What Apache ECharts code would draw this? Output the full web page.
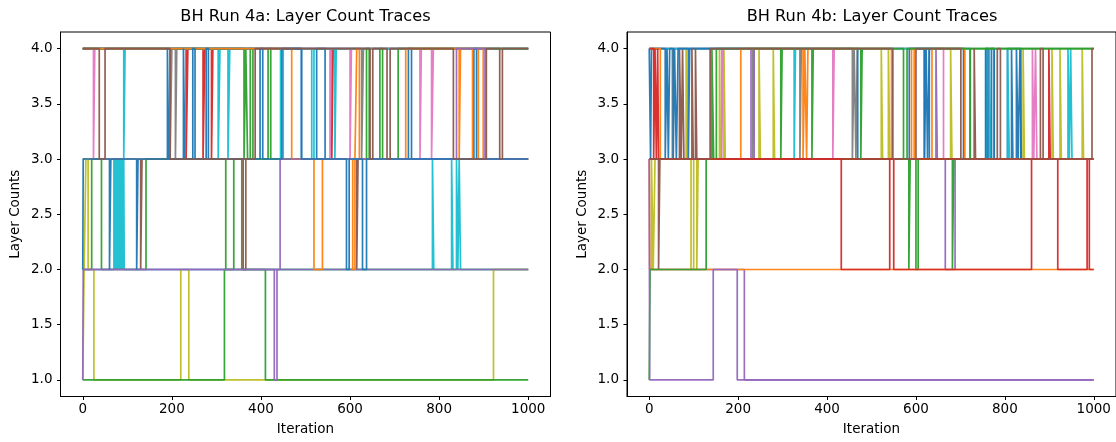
<!DOCTYPE html>
<html>
<head>
<meta charset="utf-8">
<script src="https://cdn.jsdelivr.net/npm/echarts@6/dist/echarts.min.js"></script>
<style>
html,body{margin:0;padding:0;background:#fff;}
#chart{width:1116px;height:442px;}
</style>
</head>
<body>
<div id="chart"></div>
<script>
// ---------- tick labels ----------
const xTicks = [0, 200, 400, 600, 800, 1000];
const yTicks = [1.0, 1.5, 2.0, 2.5, 3.0, 3.5, 4.0];
const lastIteration = 1000;
const titles = ['BH Run 4a: Layer Count Traces', 'BH Run 4b: Layer Count Traces'];

// ---------- Run 4a traces: [iteration where value changes, layer count] ----------
const a_cyan1 = [[0,2],[70,3],[71,2],[72,3],[73,2],[74,3],[75,2],[76,3],[77,2],[78,3],[79,2],[80,3],[81,2],[82,3],[83,2],[84,3],[85,2],[86,3],[87,2],[88,3],[89,2],[90,3],[91,2],[92,3],[93,2],[785,3],[788,2],[828,3],[831,2],[839,3],[842,2],[845,3],[848,2]];
const a_green2 = [[0,2],[20,3],[42,2],[142,3],[321,2],[339,3],[357,2]];
const a_brown2 = [[0,3],[130,2],[133,3],[360,2],[366,3],[615,2],[618,3]];
const a_olive = [[0,1],[3,2],[7,3],[12,2],[25,1],[220,2],[238,1],[922,2]];
const a_green1 = [[0,1],[318,2],[410,1]];
const a_purple1 = [[0,1],[1,2],[430,1],[436,2]];
const a_red = [[0,4],[232,3],[236,4],[270,3],[274,4],[289,3],[292,4],[559,3],[562,4]];
const a_pink = [[0,4],[24,3],[27,4],[555,3],[558,4],[600,3],[603,4],[757,3],[760,4],[783,3],[787,4]];
const a_gray = [[0,4],[196,3],[200,4],[208,3],[211,4],[626,3],[630,4]];
const a_cyan2 = [[0,4],[92,3],[95,4],[304,3],[308,4],[326,3],[330,4],[444,3],[450,4],[514,3],[519,4],[566,3],[569,4]];
const a_green3 = [[0,4],[362,3],[366,4],[370,3],[376,4],[382,3],[416,4],[422,3],[637,4],[643,3],[667,4],[673,3],[708,4]];
const a_blue2 = [[0,4],[491,3],[525,4],[544,3],[731,4],[738,3],[878,4],[884,3]];
const a_orange = [[0,4],[469,3],[519,2],[538,3],[606,2],[611,3],[615,4],[621,3],[725,4],[845,3],[848,4],[875,3],[888,4],[899,3]];
const a_purple2 = [[0,2],[443,3],[839,4],[903,3]];
const a_blue1 = [[0,2],[1,3],[60,2],[63,3],[121,2],[124,3],[190,4],[193,3],[226,4],[229,3],[247,4],[252,3],[277,4],[282,3],[398,4],[404,3],[447,4],[491,3],[592,2],[598,3],[628,2],[637,3]];
const a_brown1 = [[0,4],[37,3],[50,4],[196,3],[387,4],[645,3],[651,4],[683,3],[690,4],[832,3],[906,4],[936,3],[942,4]];

// ---------- Run 4b traces ----------
const b_olive = [[0,2],[5,3],[9,2],[13,3],[83,4],[86,3],[94,2],[100,3],[107,2],[110,3],[158,4],[160,3],[168,4],[171,3],[247,4],[250,3],[279,4],[282,3],[522,4],[525,3],[538,4],[541,3],[678,4],[681,3],[841,4],[844,3],[906,4],[909,3],[924,4],[927,3],[974,4],[977,3]];
const b_gray = [[0,4],[52,3],[54,4],[233,3],[236,4],[339,3],[342,4],[457,3],[461,4],[465,3],[468,4],[722,3]];
const b_pink = [[0,4],[163,3],[166,4],[413,3],[416,4],[662,3],[862,4],[865,3],[869,4],[872,3]];
const b_purple_c = [[0,3],[229,4],[236,3],[645,4],[648,3],[666,2],[688,3]];
const b_purple_b = [[0,2],[214,1]];
const b_brown2 = [[0,3],[21,2],[24,3],[68,4],[72,3],[75,4],[78,3]];
const b_blue2 = [[0,3],[619,4],[630,3],[757,4],[776,3],[806,4],[836,3]];
const b_cyan = [[0,4],[326,3],[329,4],[722,3],[757,4],[760,3],[765,4],[768,3],[806,4],[810,3],[942,4],[945,3],[948,4],[951,3]];
const b_blue1 = [[0,4],[3,3],[5,4],[36,3],[40,4],[43,3],[46,4],[54,3],[57,4],[61,3],[65,4],[88,3],[91,4],[469,3],[585,4],[619,3],[623,4],[626,3],[630,4],[707,3],[757,4],[762,3],[770,4],[776,3],[815,4],[818,3],[826,4],[830,3],[834,4],[837,3]];
const b_orange2 = [[0,4],[25,3],[206,4],[346,3],[350,4],[354,3],[357,4],[545,3],[590,4],[596,3],[636,4],[710,3]];
const b_green_b = [[0,3],[584,2],[587,3],[600,2],[605,3],[682,2],[685,3],[722,4]];
const b_red2 = [[0,4],[10,3],[13,4],[16,3],[19,4],[21,3],[899,4],[902,3]];
const b_orange1 = [[0,3],[1,2]];
const b_green_a = [[0,1],[2,2],[128,3],[141,4],[145,3],[151,4],[296,3],[299,4],[366,3],[369,4],[476,3],[479,4],[572,3],[580,4]];
const b_red1 = [[0,3],[432,2],[541,3],[550,2],[860,3],[919,2],[985,3],[990,2]];
const b_purple_a = [[0,3],[1,1],[144,2],[198,1]];
const b_brown1 = [[0,3],[96,4],[99,3],[104,4],[107,3],[137,4],[548,3],[600,4],[701,3],[731,4],[734,3],[783,4],[790,3],[880,4],[886,3],[996,4]];

// ---------- styling (matplotlib tab10) ----------
const C = {blue:'#1f77b4', orange:'#ff7f0e', green:'#2ca02c', red:'#d62728', purple:'#9467bd',
           brown:'#8c564b', pink:'#e377c2', gray:'#7f7f7f', olive:'#bcbd22', cyan:'#17becf'};

const panelA = [
  [a_cyan1, C.cyan], [a_green2, C.green], [a_brown2, C.brown], [a_olive, C.olive], [a_green1, C.green],
  [a_purple1, C.purple], [a_red, C.red], [a_pink, C.pink], [a_gray, C.gray], [a_cyan2, C.cyan],
  [a_green3, C.green], [a_blue2, C.blue], [a_orange, C.orange], [a_purple2, C.purple],
  [a_blue1, C.blue], [a_brown1, C.brown]
];
const panelB = [
  [b_olive, C.olive], [b_gray, C.gray], [b_pink, C.pink], [b_purple_c, C.purple], [b_purple_b, C.purple],
  [b_brown2, C.brown], [b_blue2, C.blue], [b_cyan, C.cyan], [b_blue1, C.blue], [b_orange2, C.orange],
  [b_green_b, C.green], [b_red2, C.red], [b_orange1, C.orange], [b_green_a, C.green],
  [b_red1, C.red], [b_purple_a, C.purple], [b_brown1, C.brown]
];

const FONT = 'DejaVu Sans';
const grids = [
  {left: 60.5, top: 32, width: 490, height: 364.5},
  {left: 627, top: 32, width: 490, height: 364.5}
];

function traceSeries(trace, color, idx) {
  const pts = trace.slice();
  pts.push([lastIteration, trace[trace.length - 1][1]]);
  return {
    type: 'line', xAxisIndex: idx, yAxisIndex: idx, data: pts, step: 'end',
    showSymbol: false, symbol: 'none', silent: true, animation: false,
    lineStyle: {color: color, width: 1.7, opacity: 0.95}, itemStyle: {color: color}
  };
}

function xAxis(i) {
  return {
    type: 'value', gridIndex: i, min: -50, max: 1050,
    name: 'Iteration', nameLocation: 'middle', nameGap: 26,
    nameTextStyle: {fontSize: 13.5, color: '#000', fontFamily: FONT},
    axisLine: {show: true, onZero: false, lineStyle: {color: '#000', width: 1}},
    axisTick: {show: true, length: 3.5, customValues: xTicks, lineStyle: {color: '#000', width: 1}},
    axisLabel: {customValues: xTicks, margin: 6, fontSize: 13.5, color: '#000', fontFamily: FONT,
                formatter: v => String(Math.round(v))},
    splitLine: {show: false}
  };
}
function yAxis(i) {
  return {
    type: 'value', gridIndex: i, min: 0.85, max: 4.15,
    name: 'Layer Counts', nameLocation: 'middle', nameGap: 38,
    nameTextStyle: {fontSize: 13.5, color: '#000', fontFamily: FONT},
    axisLine: {show: true, onZero: false, lineStyle: {color: '#000', width: 1}},
    axisTick: {show: true, length: 3.5, customValues: yTicks, lineStyle: {color: '#000', width: 1}},
    axisLabel: {customValues: yTicks, margin: 8, fontSize: 13.5, color: '#000', fontFamily: FONT,
                formatter: v => Number(v).toFixed(1)},
    splitLine: {show: false}
  };
}

const series = [];
panelA.forEach(([t, c]) => series.push(traceSeries(t, c, 0)));
panelB.forEach(([t, c]) => series.push(traceSeries(t, c, 1)));

const chart = echarts.init(document.getElementById('chart'), null, {renderer: 'canvas'});
chart.setOption({
  backgroundColor: '#fff',
  animation: false,
  title: [
    {text: titles[0], left: 305.5, top: 9, textAlign: 'center', padding: 0,
     textStyle: {fontSize: 16.2, fontWeight: 'normal', color: '#000', fontFamily: FONT}},
    {text: titles[1], left: 872, top: 9, textAlign: 'center', padding: 0,
     textStyle: {fontSize: 16.2, fontWeight: 'normal', color: '#000', fontFamily: FONT}}
  ],
  grid: grids.map(g => Object.assign({show: true, borderColor: '#000', borderWidth: 1, backgroundColor: 'transparent'}, g)),
  xAxis: [xAxis(0), xAxis(1)],
  yAxis: [yAxis(0), yAxis(1)],
  series: series
});
</script>
</body>
</html>
